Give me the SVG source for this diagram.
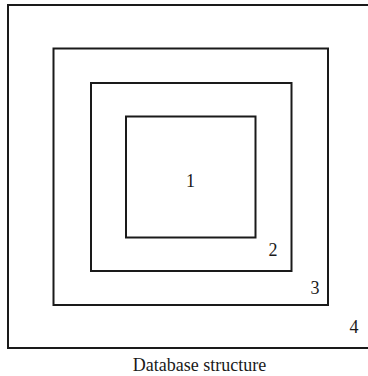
<svg xmlns="http://www.w3.org/2000/svg" width="368" height="376" viewBox="0 0 368 376">
  <style>
    .layer { fill: none; stroke: #1a1a1a; stroke-width: 2; }
    .num { font-family: "Liberation Serif", "Times New Roman", serif; font-size: 18px; fill: #1a1a1a; text-anchor: middle; }
    .caption { font-family: "Liberation Serif", "Times New Roman", serif; font-size: 18px; fill: #1a1a1a; text-anchor: middle; }
  </style>
  <rect width="368" height="376" fill="#ffffff"/>
  <!-- nested layers, outermost first -->
  <g id="layer4">
    <rect class="layer" x="8" y="5" width="400" height="343"/>
    <text class="num" x="354" y="333">4</text>
  </g>
  <g id="layer3">
    <rect class="layer" x="53.5" y="48.5" width="274.5" height="256.5"/>
    <text class="num" x="315" y="294">3</text>
  </g>
  <g id="layer2">
    <rect class="layer" x="91" y="83" width="200.5" height="188"/>
    <text class="num" x="273" y="256">2</text>
  </g>
  <g id="layer1">
    <rect class="layer" x="126" y="116.5" width="129.5" height="121"/>
    <text class="num" x="190.5" y="187">1</text>
  </g>
  <g id="connectors"/>
  <text class="caption" x="199.5" y="371">Database structure</text>
</svg>
